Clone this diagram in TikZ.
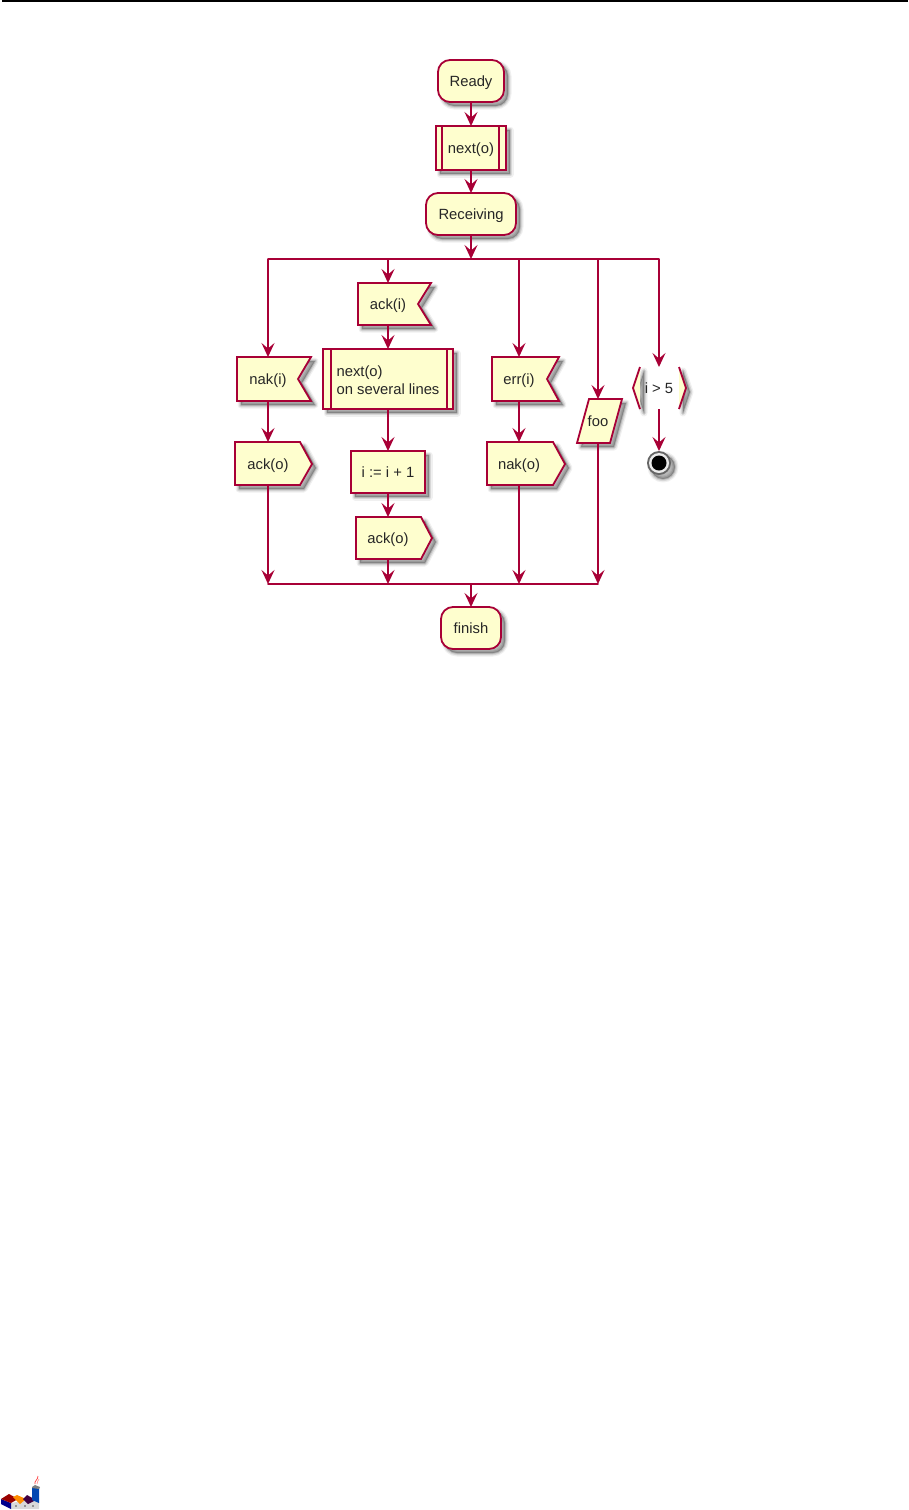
\documentclass[tikz,border=0pt]{standalone}
\usepackage{fontspec}
\setmainfont{Liberation Sans}
\usetikzlibrary{arrows.meta,calc}
\definecolor{umlline}{HTML}{A80036}
\definecolor{umlfill}{HTML}{FEFECE}
\tikzset{
  softshadow/.style={
    preaction={draw=black,fill=black,opacity=.06,line width=7pt,line join=round,transform canvas={shift={(4pt,-4pt)}}},
    preaction={draw=black,fill=black,opacity=.10,line width=4.5pt,line join=round,transform canvas={shift={(4pt,-4pt)}}},
    preaction={draw=black,fill=black,opacity=.14,line width=2pt,line join=round,transform canvas={shift={(4pt,-4pt)}}}},
  outline/.style={draw=umlline,fill=umlfill,line width=1.8pt,line join=miter},
  barline/.style={draw=umlline,line width=1.8pt},
  label/.style={inner sep=0pt,outer sep=0pt,align=left,font=\fontsize{14.8}{18}\selectfont,text=black!85,text height=12pt,text depth=0.6pt,minimum height=#1},
  rbox/.style 2 args={label=#2,minimum width=#1,outline,softshadow,rectangle},
  rounded/.style 2 args={rbox={#1}{#2},rounded corners=12pt},
  flow/.style={draw=umlline,line width=1.8pt,-{Stealth[length=14pt,width=13pt,inset=5.5pt]}},
  rail/.style={draw=umlline,line width=1.8pt,line cap=round},
}
\begin{document}
\begin{tikzpicture}[x=1pt,y=-1pt]
\useasboundingbox (0,0) rectangle (908,1510);
\fill[white] (0,0) rectangle (908,1510);
\fill[black] (2,0) rectangle (908,1.5);

% polygon outlines
\path[outline,softshadow] (237,357) -- (311,357) -- (298,379) -- (311,401) -- (237,401) -- cycle;
\path[outline,softshadow] (358,283) -- (431,283) -- (418,304) -- (431,325) -- (358,325) -- cycle;
\path[outline,softshadow] (492,357) -- (559,357) -- (547,379) -- (559,401) -- (492,401) -- cycle;
\path[outline,softshadow] (235,442) -- (300,442) -- (312,464) -- (300,485) -- (235,485) -- cycle;
\path[outline,softshadow] (356,517) -- (421,517) -- (432,538) -- (421,559) -- (356,559) -- cycle;
\path[outline,softshadow] (487,442) -- (553,442) -- (565,464) -- (553,485) -- (487,485) -- cycle;
\path[outline,softshadow] (589,399) -- (622,399) -- (610,443) -- (577,443) -- cycle;
% i > 5
\path[fill=umlfill,softshadow] (640,367) -- (633,388) -- (640,409) -- cycle;
\path[fill=umlfill,softshadow] (679,367) -- (686,388) -- (679,409) -- cycle;
\draw[barline] (640,367) -- (633,388) -- (640,409);
\draw[barline] (679,367) -- (686,388) -- (679,409);

% nodes
\node[rounded={66pt}{42pt}] (ready) at (471,81) {Ready};
\node[rbox={70pt}{44pt}] (nexta) at (471,148) {next(o)};
\draw[barline] ($(nexta.north west)+(6,0)$) -- ($(nexta.south west)+(6,0)$);
\draw[barline] ($(nexta.north east)+(-7,0)$) -- ($(nexta.south east)+(-7,0)$);
\node[rounded={90pt}{42pt}] (receiving) at (471,214) {Receiving};
\node[label=42pt] (acki) at (388,304) {ack(i)};
\node[rbox={130pt}{60pt}] (nextb) at (388,379) {};
\node[inner sep=0pt,align=left,font=\fontsize{14.8}{18}\selectfont,text=black!85] (nextbtext) at (388,380) {next(o)\\on several lines};
\draw[barline] ($(nextb.north west)+(8,0)$) -- ($(nextb.south west)+(8,0)$);
\draw[barline] ($(nextb.north east)+(-6,0)$) -- ($(nextb.south east)+(-6,0)$);
\node[rbox={74pt}{42pt}] (incr) at (388,472) {i := i + 1};
\node[label=42pt] (ackb) at (388,538) {ack(o)};
\node[label=44pt] (naki) at (268,379) {nak(i)};
\node[label=44pt] (acka) at (268,464) {ack(o)};
\node[label=44pt] (erri) at (519,379) {err(i)};
\node[label=44pt] (nako) at (519,464) {nak(o)};
\node[label=44pt] (foo) at (598,421) {foo};
\node[label=42pt] (guard) at (659,388) {i > 5};
\node[rounded={60pt}{42pt}] (finish) at (471,628) {finish};

% stop symbol
\node[circle,minimum size=24pt,inner sep=0pt,outer sep=0pt,fill=black!60,softshadow] (stop) at (659,463) {};
\fill[white!92!black] (stop.center) circle (10pt);
\fill[black] (stop.center) circle (7.5pt);

% rails
\coordinate (split) at (471,259);
\coordinate (s1) at (268,259);
\coordinate (s2) at (388,259);
\coordinate (s3) at (519,259);
\coordinate (s4) at (598,259);
\coordinate (s5) at (659,259);
\coordinate (join) at (471,584);
\coordinate (j1) at (268,584);
\coordinate (j2) at (388,584);
\coordinate (j3) at (519,584);
\coordinate (j4) at (598,584);
\draw[rail] (s1) -- (s5);
\draw[rail] (j1) -- (j4);

% connectors
\draw[flow] (ready) -- (nexta);
\draw[flow] (nexta) -- (receiving);
\draw[flow] (receiving) -- (split);
\draw[flow] (s1) -- (naki);
\draw[flow] (s2) -- (acki);
\draw[flow] (s3) -- (erri);
\draw[flow] (s4) -- (foo);
\draw[flow] (s5) -- (guard);
\draw[flow] (acki) -- (nextb);
\draw[flow] (nextb) -- (incr);
\draw[flow] (incr) -- (ackb);
\draw[flow] (naki) -- (acka);
\draw[flow] (erri) -- (nako);
\draw[flow] (guard) -- (stop);
\draw[flow] (acka) -- (j1);
\draw[flow] (ackb) -- (j2);
\draw[flow] (nako) -- (j3);
\draw[flow] (foo) -- (j4);
\draw[flow] (join) -- (finish);

% logo
\fill[white!85!black] (11,1503) -- (39,1498) -- (39,1509) -- (11,1509) -- cycle;
\fill[blue!55!black] (1,1499) -- (11,1503) -- (11,1509) -- (1,1504) -- cycle;
\fill[red!60!black] (1,1499) -- (9,1494) -- (18,1499) -- (11,1503) -- cycle;
\fill[orange!90!yellow] (13,1497) -- (17,1495) -- (26,1499) -- (20,1504) -- cycle;
\fill[black!50!violet] (27,1495) -- (36,1500) -- (28,1504) -- (23,1499) -- cycle;
\fill[blue!60!cyan!70!black] (32,1487) -- (39,1487) -- (39,1503) -- (32,1500) -- cycle;
\fill[gray] (32,1487) -- (35,1485) -- (40,1487) -- (39,1489) -- (32,1488) -- cycle;
\foreach \dotx in {16,25,33} \fill[black!70] (\dotx,1506) circle (0.9pt);
\draw[red!75,line width=.7pt] (35,1484) .. controls (34,1481) and (38,1480) .. (38,1476);
\draw[red!45,line width=.6pt] (37,1484) .. controls (36,1482) and (39,1481) .. (39,1479);
\end{tikzpicture}
\end{document}
